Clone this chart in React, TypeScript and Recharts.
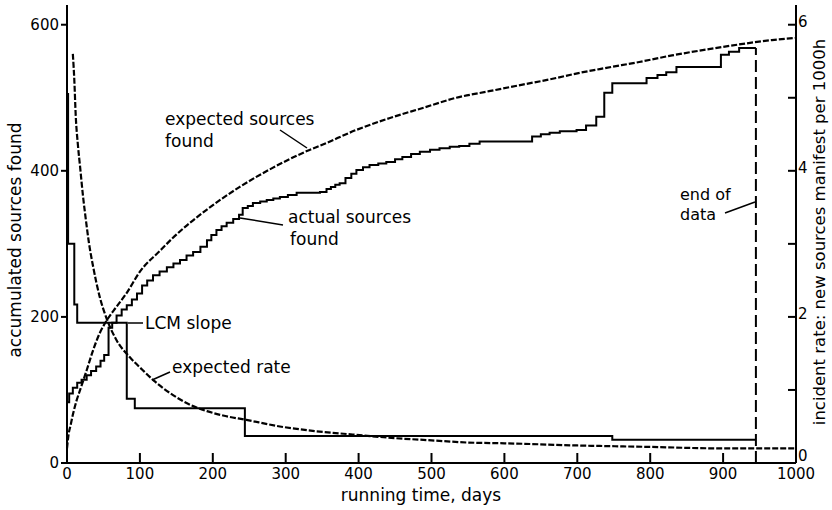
import { ComposedChart, Line, XAxis, YAxis } from "recharts";

const FONT = "DejaVu Sans";

// expected sources found (dotted curve, left axis)
const expectedDays = [0, 2, 5, 8, 13, 18, 27, 36, 45, 55, 68, 82, 100, 127, 145, 192, 237, 282, 329, 351, 397, 442, 488, 534, 579, 625, 671, 693, 740, 785, 830, 877, 922, 967, 1000];
const expectedFound = [20, 38, 52, 66, 85, 100, 127, 155, 178, 196, 214, 233, 262, 290, 308, 347, 378, 404, 427, 436, 456, 472, 486, 500, 509, 518, 527, 532, 541, 549, 558, 566, 573, 579, 582];

// actual sources found (step, left axis)
const actualDays = [0, 3, 8, 14, 20, 27, 33, 40, 46, 51, 57, 62, 68, 75, 82, 89, 96, 103, 110, 118, 127, 137, 146, 155, 164, 173, 183, 192, 198, 205, 212, 219, 228, 236, 241, 248, 255, 265, 274, 283, 292, 303, 315, 347, 356, 362, 368, 374, 382, 390, 397, 406, 415, 427, 438, 450, 460, 472, 484, 498, 511, 525, 538, 552, 566, 638, 650, 662, 676, 699, 712, 726, 737, 748, 795, 810, 822, 836, 897, 908, 922, 945];
const actualFound = [83, 95, 103, 110, 114, 120, 126, 132, 140, 148, 185, 192, 202, 210, 216, 224, 232, 243, 250, 257, 262, 268, 273, 278, 284, 289, 296, 305, 312, 319, 324, 329, 334, 340, 349, 352, 356, 358, 360, 362, 364, 367, 370, 371, 375, 378, 381, 383, 390, 396, 401, 405, 408, 410, 412, 416, 419, 423, 426, 429, 431, 433, 434, 437, 440, 447, 450, 452, 454, 456, 462, 474, 507, 520, 527, 531, 535, 542, 559, 563, 568, 568];

// LCM slope (step, right axis)
const lcmDays = [0, 1.5, 10, 14, 82, 93, 244, 748, 945];
const lcmRate = [5.05, 3.0, 2.17, 1.92, 0.88, 0.75, 0.37, 0.32, 0.32];

// expected rate (dotted curve, right axis)
const rateDays = [8, 10, 12, 15, 18, 22, 26, 30, 36, 45, 55, 68, 86, 104, 120, 141, 168, 192, 214, 246, 292, 337, 392, 450, 500, 550, 600, 700, 800, 900, 1000];
const expectedRate = [5.6, 5.25, 4.75, 4.35, 4.05, 3.65, 3.32, 3.02, 2.68, 2.27, 1.96, 1.68, 1.45, 1.27, 1.12, 0.96, 0.8, 0.71, 0.65, 0.59, 0.5, 0.44, 0.39, 0.34, 0.31, 0.28, 0.27, 0.24, 0.22, 0.2, 0.2];

// end of data marker
const endDays = [945, 945];
const endValues = [0, 568];

const xTicks = [0, 100, 200, 300, 400, 500, 600, 700, 800, 900, 1000];
const leftTicks = [0, 200, 400, 600];
const rightTicks = [0, 1, 2, 3, 4, 5, 6];

const zip = (xs: number[], ys: number[]) => xs.map((x, i) => ({ x, y: ys[i] }));

const tickStyle = { fill: "#000", fontSize: 15, fontFamily: FONT };
const axisLine = { stroke: "#000", strokeWidth: 2 };

// right axis: labels only on even values, lifted slightly like the original
function RightTick(props: any) {
  const { x, y, payload } = props;
  if (payload.value % 2 !== 0) return null;
  const lift = payload.value === 0 ? 7 : 3;
  return (
    <text x={x} y={y - lift} dy="0.35em" textAnchor="start" fill="#000" fontSize={15} fontFamily={FONT}>
      {payload.value}
    </text>
  );
}

export default function App() {
  return (
    <div style={{ position: "absolute", left: 0, top: 0, width: 832, height: 510, background: "#fff" }}>
      <ComposedChart width={832} height={510} margin={{ top: 5, right: 6, bottom: 17, left: 7 }}>
        <XAxis
          type="number"
          dataKey="x"
          domain={[0, 1000]}
          ticks={xTicks}
          height={30}
          tickSize={-10}
          tickMargin={15}
          axisLine={axisLine}
          tickLine={{ stroke: "#000", strokeWidth: 2 }}
          tick={tickStyle}
        />
        <YAxis
          yAxisId="left"
          domain={[0, 627]}
          ticks={leftTicks}
          width={60}
          tickSize={6}
          tickMargin={2}
          axisLine={axisLine}
          tickLine={{ stroke: "#000", strokeWidth: 2 }}
          tick={tickStyle}
        />
        <YAxis
          yAxisId="right"
          orientation="right"
          domain={[0, 6.27]}
          ticks={rightTicks}
          width={30}
          tickSize={-8}
          tickMargin={10}
          axisLine={axisLine}
          tickLine={{ stroke: "#000", strokeWidth: 2 }}
          tick={<RightTick />}
        />
        <Line yAxisId="left" data={zip(expectedDays, expectedFound)} dataKey="y" type="monotone"
          stroke="#000" strokeWidth={2.2} strokeDasharray="6 2" dot={false} activeDot={false} isAnimationActive={false} />
        <Line yAxisId="left" data={zip(actualDays, actualFound)} dataKey="y" type="stepAfter"
          stroke="#000" strokeWidth={2} dot={false} activeDot={false} isAnimationActive={false} />
        <Line yAxisId="right" data={zip(lcmDays, lcmRate)} dataKey="y" type="stepAfter"
          stroke="#000" strokeWidth={2} dot={false} activeDot={false} isAnimationActive={false} />
        <Line yAxisId="right" data={zip(rateDays, expectedRate)} dataKey="y" type="monotone"
          stroke="#000" strokeWidth={2.2} strokeDasharray="6 2" dot={false} activeDot={false} isAnimationActive={false} />
        <Line yAxisId="left" data={zip(endDays, endValues)} dataKey="y" type="linear"
          stroke="#000" strokeWidth={2} strokeDasharray="12 5" dot={false} activeDot={false} isAnimationActive={false} />
      </ComposedChart>
      <svg width={832} height={510} style={{ position: "absolute", left: 0, top: 0, pointerEvents: "none" }}>
        <g fontFamily={FONT} fontSize={17} fill="#000">
          <text x={165} y={125}>expected sources</text>
          <text x={165} y={147}>found</text>
          <text x={288} y={223}>actual sources</text>
          <text x={290} y={245}>found</text>
          <text x={145} y={329}>LCM slope</text>
          <text x={172} y={373}>expected rate</text>
          <text x={680} y={200} fontSize={16}>end of</text>
          <text x={680} y={220} fontSize={16}>data</text>
          <text x={421} y={501} textAnchor="middle">running time, days</text>
          <text transform="translate(21,240) rotate(-90)" textAnchor="middle">accumulated sources found</text>
          <text transform="translate(825,232) rotate(-90)" textAnchor="middle" fontSize={16.5}>incident rate: new sources manifest per 1000h</text>
        </g>
        <g stroke="#000" strokeWidth={1.5}>
          <line x1={280} y1={130} x2={307} y2={148} />
          <line x1={240} y1={218} x2={283} y2={225} />
          <line x1={128} y1={323} x2={143} y2={323} />
          <line x1={152} y1={380} x2={170} y2={372} />
          <line x1={725} y1={213} x2={755} y2={202} />
        </g>
      </svg>
    </div>
  );
}
